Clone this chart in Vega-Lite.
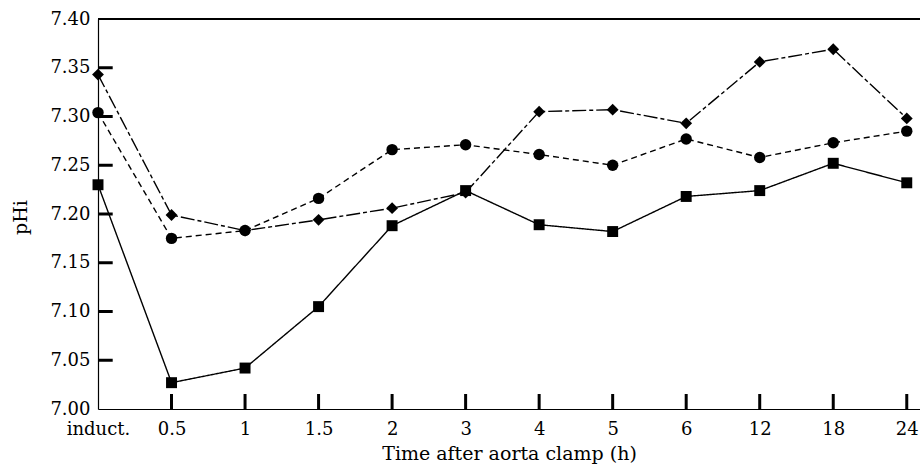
{
  "$schema": "https://vega.github.io/schema/vega-lite/v6.json",
  "autosize": "none",
  "padding": {"left": 98, "top": 19, "right": 0, "bottom": 58},
  "width": 822,
  "height": 390,
  "background": "white",
  "config": {
    "view": {"stroke": null},
    "font": "DejaVu Serif",
    "axis": {"labelFont": "DejaVu Serif", "titleFont": "DejaVu Serif", "labelColor": "black", "titleColor": "black", "domainColor": "black", "tickColor": "black", "grid": false, "titleFontWeight": "normal"}
  },
  "datasets": {
    "ph": [
      {"i": 0, "t": "induct.", "series": "A", "v": 7.230},
      {"i": 1, "t": "0.5", "series": "A", "v": 7.027},
      {"i": 2, "t": "1", "series": "A", "v": 7.042},
      {"i": 3, "t": "1.5", "series": "A", "v": 7.105},
      {"i": 4, "t": "2", "series": "A", "v": 7.188},
      {"i": 5, "t": "3", "series": "A", "v": 7.224},
      {"i": 6, "t": "4", "series": "A", "v": 7.189},
      {"i": 7, "t": "5", "series": "A", "v": 7.182},
      {"i": 8, "t": "6", "series": "A", "v": 7.218},
      {"i": 9, "t": "12", "series": "A", "v": 7.224},
      {"i": 10, "t": "18", "series": "A", "v": 7.252},
      {"i": 11, "t": "24", "series": "A", "v": 7.232},
      {"i": 0, "t": "induct.", "series": "B", "v": 7.304},
      {"i": 1, "t": "0.5", "series": "B", "v": 7.175},
      {"i": 2, "t": "1", "series": "B", "v": 7.183},
      {"i": 3, "t": "1.5", "series": "B", "v": 7.216},
      {"i": 4, "t": "2", "series": "B", "v": 7.266},
      {"i": 5, "t": "3", "series": "B", "v": 7.271},
      {"i": 6, "t": "4", "series": "B", "v": 7.261},
      {"i": 7, "t": "5", "series": "B", "v": 7.250},
      {"i": 8, "t": "6", "series": "B", "v": 7.277},
      {"i": 9, "t": "12", "series": "B", "v": 7.258},
      {"i": 10, "t": "18", "series": "B", "v": 7.273},
      {"i": 11, "t": "24", "series": "B", "v": 7.285},
      {"i": 0, "t": "induct.", "series": "C", "v": 7.343},
      {"i": 1, "t": "0.5", "series": "C", "v": 7.199},
      {"i": 2, "t": "1", "series": "C", "v": 7.183},
      {"i": 3, "t": "1.5", "series": "C", "v": 7.194},
      {"i": 4, "t": "2", "series": "C", "v": 7.206},
      {"i": 5, "t": "3", "series": "C", "v": 7.222},
      {"i": 6, "t": "4", "series": "C", "v": 7.305},
      {"i": 7, "t": "5", "series": "C", "v": 7.307},
      {"i": 8, "t": "6", "series": "C", "v": 7.293},
      {"i": 9, "t": "12", "series": "C", "v": 7.356},
      {"i": 10, "t": "18", "series": "C", "v": 7.369},
      {"i": 11, "t": "24", "series": "C", "v": 7.298}
    ],
    "yticks": [
      {"p": 7.05}, {"p": 7.10}, {"p": 7.15}, {"p": 7.20}, {"p": 7.25}, {"p": 7.30}, {"p": 7.35}
    ]
  },
  "data": {"name": "ph"},
  "layer": [
    {
      "mark": {"type": "rule", "color": "black", "strokeWidth": 1.2},
      "encoding": {
        "y": {"datum": 7.4, "scale": {"domain": [7.0, 7.4], "nice": false, "zero": false}},
        "x": {"datum": 0, "scale": {"domain": [0, 11.18], "nice": false, "zero": false}},
        "x2": {"datum": 11.18}
      }
    },
    {
      "transform": [{"filter": "datum.series === 'A' && datum.i > 0"}],
      "mark": {"type": "rule", "color": "#000000", "strokeWidth": 3},
      "encoding": {
        "x": {"field": "i", "type": "quantitative"},
        "y": {"datum": 7.0},
        "y2": {"datum": 7.0154}
      }
    },
    {
      "data": {"name": "yticks"},
      "mark": {"type": "rule", "color": "#000000", "strokeWidth": 3},
      "encoding": {
        "y": {"field": "p", "type": "quantitative"},
        "x": {"datum": 0},
        "x2": {"datum": 0.2}
      }
    },
    {
      "mark": {"type": "line", "color": "black", "strokeWidth": 1.4},
      "encoding": {
        "x": {"field": "i", "type": "quantitative"},
        "y": {"field": "v", "type": "quantitative"},
        "detail": {"field": "series"},
        "strokeDash": {
          "field": "series", "type": "nominal",
          "scale": {"domain": ["A", "B", "C"], "range": [[1, 0], [6, 4], [14, 3, 4, 3]]},
          "legend": null
        }
      }
    },
    {
      "mark": {"type": "point", "filled": true, "color": "black", "opacity": 1},
      "encoding": {
        "x": {
          "field": "i", "type": "quantitative",
          "axis": {
            "title": "Time after aorta clamp (h)",
            "values": [0, 1, 2, 3, 4, 5, 6, 7, 8, 9, 10, 11],
            "labelExpr": "['induct.','0.5','1','1.5','2','3','4','5','6','12','18','24'][datum.value]",
            "ticks": false,
            "domainWidth": 1.2,
            "labelPadding": 11,
            "labelFontSize": 18,
            "labelFlush": false,
            "titleFontSize": 19,
            "titlePadding": 6,
            "labelBound": false,
            "labelOverlap": false
          }
        },
        "y": {
          "field": "v", "type": "quantitative",
          "axis": {
            "title": "pHi",
            "values": [7.0, 7.05, 7.1, 7.15, 7.2, 7.25, 7.3, 7.35, 7.4],
            "format": ".2f",
            "ticks": false,
            "domainWidth": 1.2,
            "labelPadding": 8,
            "labelFontSize": 18,
            "labelFlush": false,
            "titleFontSize": 19,
            "titleX": -68,
            "titleY": 198,
            "labelOverlap": false
          }
        },
        "shape": {
          "field": "series", "type": "nominal",
          "scale": {"domain": ["A", "B", "C"], "range": ["square", "circle", "diamond"]},
          "legend": null
        },
        "size": {
          "field": "series", "type": "ordinal",
          "scale": {"domain": ["A", "B", "C"], "range": [120, 140, 200]},
          "legend": null
        }
      }
    }
  ]
}
